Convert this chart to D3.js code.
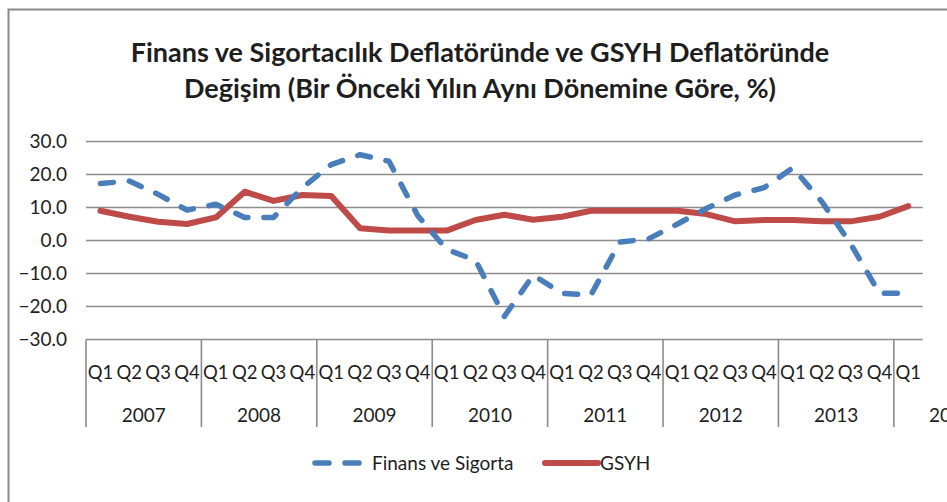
<!DOCTYPE html>
<html lang="tr">
<head>
    <meta charset="UTF-8">
    <title>deflator-chart</title>
    <style>
        body {
            margin: 0;
            background: #fff;
        }
        svg text {
            font-family: Lato, "Open Sans", sans-serif;
            fill: #1e1e1e;
        }
    </style>
    <script src="https://d3js.org/d3.v7.min.js"></script>
</head>
<body>

<script>

    // data
    let years = ["2007", "2008", "2009", "2010", "2011", "2012", "2013", "2014"]
    let quarters = ["Q1", "Q2", "Q3", "Q4"]
    let quartersPerYear = [4, 4, 4, 4, 4, 4, 4, 1]
    let finans = [17.3, 18.0, 14.0, 9.2, 11.0, 7.0, 7.0, 16.0, 23.0, 26.0, 24.0, 7.5,
        -2.7, -6.0, -23.0, -10.5, -16.0, -16.5, -0.5, 0.5, 5.0, 9.7, 13.8, 16.0,
        22.0, 11.8, -1.0, -16.0, -16.0]
    let gsyh = [9.0, 7.2, 5.7, 5.0, 7.0, 14.8, 12.0, 13.8, 13.5, 3.7, 3.0, 3.0,
        3.0, 6.2, 7.8, 6.3, 7.2, 9.0, 9.0, 9.0, 9.0, 8.0, 5.8, 6.2,
        6.2, 5.8, 5.8, 7.2, 10.4]
    let yTicks = [-30, -20, -10, 0, 10, 20, 30]
    let titleLines = ["Finans ve Sigortacılık Deflatöründe ve GSYH Deflatöründe",
        "Değişim (Bir Önceki Yılın Aynı Dönemine Göre, %)"]
    let seriesNames = ["Finans ve Sigorta", "GSYH"]

    let width = 947;
    let height = 502;
    let blue = "#4A7EBB";
    let red = "#BE4B48";
    let gridColor = "#8c8c8c";

    // category list: one entry per quarter
    let cats = [];
    years.forEach(function (y, i) {
        for (let q = 0; q < quartersPerYear[i]; q++) {
            cats.push({year: y, q: quarters[q], key: y + "-" + quarters[q]});
        }
    });

    let svg = d3.select("body").append("svg")
        .attr("width", width)
        .attr("height", height);

    svg.append("rect")
        .attr("width", "100%")
        .attr("height", "100%")
        .attr("fill", "#fff");

    // outer frame (only top and left show in the picture)
    svg.append("path")
        .attr("d", "M8.5," + height + "V9.5H" + width)
        .attr("fill", "none")
        .attr("stroke", "#8a8a8a")
        .attr("stroke-width", 2);

    // title
    svg.append("g").selectAll("text")
        .data(titleLines)
        .enter()
        .append("text")
        .attr("x", 480)
        .attr("y", function (d, i) { return 62 + i * 36; })
        .attr("text-anchor", "middle")
        .style("font-weight", "bold")
        .style("font-size", "27px")
        .text(function (d) { return d; });

    let x = d3.scaleBand()
        .domain(cats.map(function (d) { return d.key; }))
        .range([86, 922.7])
        .padding(0);

    let y = d3.scaleLinear()
        .domain([-30, 30])
        .range([339.5, 141.5]);

    // horizontal grid lines
    svg.append("g").selectAll("line")
        .data(yTicks)
        .enter()
        .append("line")
        .attr("x1", x.range()[0])
        .attr("x2", x.range()[1])
        .attr("y1", function (d) { return y(d); })
        .attr("y2", function (d) { return y(d); })
        .attr("stroke", gridColor)
        .attr("stroke-width", 1.6);

    // y tick labels
    svg.append("g").selectAll("text")
        .data(yTicks)
        .enter()
        .append("text")
        .attr("x", 67)
        .attr("y", function (d) { return y(d); })
        .attr("dy", "0.36em")
        .attr("text-anchor", "end")
        .style("font-size", "19px")
        .text(function (d) { return d3.format(".1f")(d); });

    // year separators on the category axis
    let yearStarts = cats.filter(function (d) { return d.q === "Q1"; });
    svg.append("g").selectAll("line")
        .data(yearStarts)
        .enter()
        .append("line")
        .attr("x1", function (d) { return x(d.key); })
        .attr("x2", function (d) { return x(d.key); })
        .attr("y1", y(-30))
        .attr("y2", 427)
        .attr("stroke", gridColor)
        .attr("stroke-width", 1.6);

    // quarter labels
    svg.append("g").selectAll("text")
        .data(cats)
        .enter()
        .append("text")
        .attr("x", function (d) { return x(d.key) + x.bandwidth() / 2; })
        .attr("y", 372)
        .attr("dy", "0.36em")
        .attr("text-anchor", "middle")
        .style("font-size", "18.5px")
        .text(function (d) { return d.q; });

    // year labels, the last one sits past the plot edge and gets cut
    svg.append("g").selectAll("text")
        .data(yearStarts)
        .enter()
        .append("text")
        .attr("x", function (d, i) {
            if (i === yearStarts.length - 1) return 929;
            return x(d.key) + x.bandwidth() * quartersPerYear[i] / 2;
        })
        .attr("y", 415)
        .attr("dy", "0.36em")
        .attr("text-anchor", function (d, i) {
            return i === yearStarts.length - 1 ? "start" : "middle";
        })
        .style("font-size", "19px")
        .text(function (d) { return d.year; });

    let line = d3.line()
        .x(function (d, i) { return x(cats[i].key) + x.bandwidth() / 2; })
        .y(function (d) { return y(d); });

    svg.append("path")
        .datum(gsyh)
        .attr("d", line)
        .attr("fill", "none")
        .attr("stroke", red)
        .attr("stroke-width", 6)
        .attr("stroke-linejoin", "round")
        .attr("stroke-linecap", "round");

    svg.append("path")
        .datum(finans)
        .attr("d", line)
        .attr("fill", "none")
        .attr("stroke", blue)
        .attr("stroke-width", 5.5)
        .attr("stroke-dasharray", "13,16")
        .attr("stroke-linejoin", "round")
        .attr("stroke-linecap", "round");

    // legend
    let legend = svg.append("g");
    legend.append("line")
        .attr("x1", 315).attr("x2", 360)
        .attr("y1", 463).attr("y2", 463)
        .attr("stroke", blue)
        .attr("stroke-width", 5.5)
        .attr("stroke-dasharray", "14,16")
        .attr("stroke-linecap", "round");
    legend.append("text")
        .attr("x", 372).attr("y", 463)
        .attr("dy", "0.36em")
        .style("font-size", "19px")
        .text(seriesNames[0]);
    legend.append("line")
        .attr("x1", 545).attr("x2", 598)
        .attr("y1", 463).attr("y2", 463)
        .attr("stroke", red)
        .attr("stroke-width", 6)
        .attr("stroke-linecap", "round");
    legend.append("text")
        .attr("x", 600).attr("y", 463)
        .attr("dy", "0.36em")
        .style("font-size", "19px")
        .text(seriesNames[1]);

</script>

</body>
</html>
